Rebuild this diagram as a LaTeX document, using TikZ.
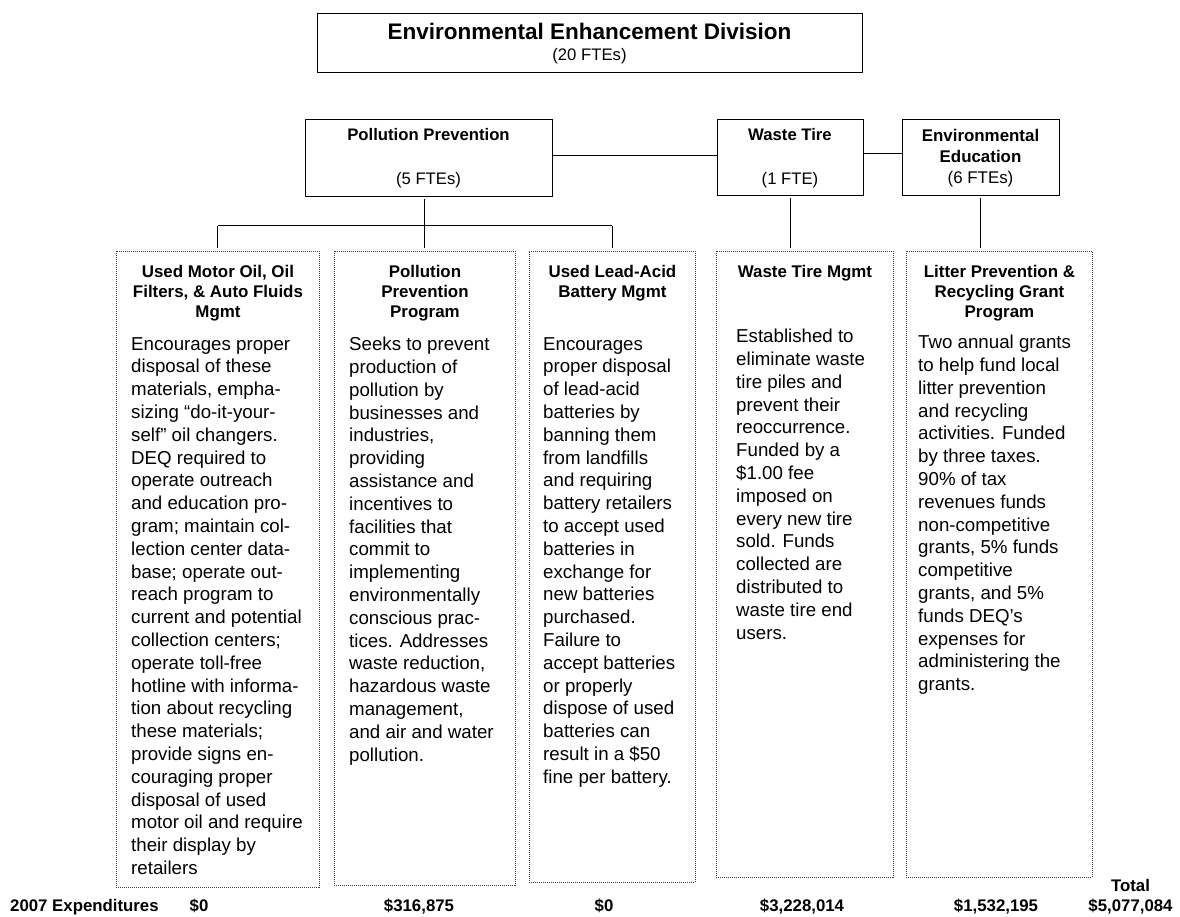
\documentclass[tikz,border=0pt]{standalone}
\usepackage{fontspec}
\setmainfont{Liberation Sans}
\usetikzlibrary{positioning}

\begin{document}
\begin{tikzpicture}[x=1pt,y=-1pt,
  unitbox/.style={draw,line width=1pt,inner sep=0pt,align=center,font=\fontsize{16.7}{20}\selectfont},
  progbox/.style={draw=black!75,dash pattern=on 1pt off 1pt,line width=0.9pt,inner sep=0pt,anchor=north west},
  head/.style={inner sep=0pt,align=center,font=\fontsize{16.9}{20}\selectfont\bfseries},
  body/.style={inner sep=0pt,align=left,anchor=north west,font=\fontsize{18.7}{22.8}\selectfont},
  cost/.style={inner sep=0pt,anchor=base,font=\fontsize{16.8}{20}\selectfont\bfseries},
  link/.style={line width=1pt}]
\useasboundingbox (0,0) rectangle (1180,917);

% division and its three sections
\node[unitbox,minimum width=545pt,minimum height=59pt,font=\fontsize{16.7}{21}\selectfont] (eed) at (589.5,43.5)
  {{\fontsize{22.5}{21}\selectfont\bfseries Environmental Enhancement Division}\\(20 FTEs)};
\node[unitbox,minimum width=247pt,minimum height=77pt] (pp) at (428.5,158.5) {\textbf{Pollution Prevention}\\[24pt](5 FTEs)};
\node[unitbox,minimum width=146pt,minimum height=76pt] (wt) at (790,158) {\textbf{Waste Tire}\\[24pt](1 FTE)};
\node[unitbox,minimum width=157pt,minimum height=76pt,font=\fontsize{16.9}{21}\selectfont] (ee) at (980.5,158)
  {\textbf{Environmental}\\\textbf{Education}\\(6 FTEs)};

% programs
\node[progbox,minimum width=203pt,minimum height=636pt] (b1) at (116,251) {};
\node[progbox,minimum width=181pt,minimum height=634pt] (b2) at (334,251) {};
\node[progbox,minimum width=166pt,minimum height=631pt] (b3) at (529,251) {};
\node[progbox,minimum width=177pt,minimum height=626pt] (b4) at (716,251) {};
\node[progbox,minimum width=186pt,minimum height=626pt] (b5) at (906,251) {};

\node[head,below=14.5pt of b1.north] (h1) {Used Motor Oil, Oil\\Filters, \& Auto Fluids\\Mgmt};
\node[head,below=14.5pt of b2.north] (h2) {Pollution\\Prevention\\Program};
\node[head,below=14.5pt of b3.north] (h3) {Used Lead-Acid\\Battery Mgmt};
\node[head,below=14.5pt of b4.north] (h4) {Waste Tire Mgmt};
\node[head,below=14.5pt of b5.north] (h5) {Litter Prevention \&\\Recycling Grant\\Program};

\node[body] (t1) at (131,337)
  {Encourages proper\\disposal of these\\materials, empha-\\sizing “do-it-your-\\self” oil changers.\\DEQ required to\\operate outreach\\and education pro-\\gram; maintain col-\\lection center data-\\base; operate out-\\reach program to\\current and potential\\collection centers;\\operate toll-free\\hotline with informa-\\tion about recycling\\these materials;\\provide signs en-\\couraging proper\\disposal of used\\motor oil and require\\their display by\\retailers};
\node[body] (t2) at (349,337)
  {Seeks to prevent\\production of\\pollution by\\businesses and\\industries,\\providing\\assistance and\\incentives to\\facilities that\\commit to\\implementing\\environmentally\\conscious prac-\\tices. Addresses\\waste reduction,\\hazardous waste\\management,\\and air and water\\pollution.};
\node[body] (t3) at (543,337)
  {Encourages\\proper disposal\\of lead-acid\\batteries by\\banning them\\from landfills\\and requiring\\battery retailers\\to accept used\\batteries in\\exchange for\\new batteries\\purchased.\\Failure to\\accept batteries\\or properly\\dispose of used\\batteries can\\result in a \$50\\fine per battery.};
\node[body] (t4) at (736,329)
  {Established to\\eliminate waste\\tire piles and\\prevent their\\reoccurrence.\\Funded by a\\\$1.00 fee\\imposed on\\every new tire\\sold. Funds\\collected are\\distributed to\\waste tire end\\users.};
\node[body] (t5) at (918,335)
  {Two annual grants\\to help fund local\\litter prevention\\and recycling\\activities. Funded\\by three taxes.\\90\% of tax\\revenues funds\\non-competitive\\grants, 5\% funds\\competitive\\grants, and 5\%\\funds DEQ’s\\expenses for\\administering the\\grants.};

% connectors
\coordinate (bus) at (0,226);
\draw[link] ([yshift=3pt]pp.east) -- ([yshift=3pt]pp.east -| wt.west);
\draw[link] ([yshift=4pt]wt.east) -- ([yshift=4pt]wt.east -| ee.west);
\draw[link,shorten <=2pt,shorten >=3pt] (b2.north |- pp.south) -- (b2.north);
\draw[link] (b1.north |- bus) -- (b3.north |- bus);
\draw[link,shorten >=3pt] (b1.north |- bus) -- (b1.north);
\draw[link,shorten >=3pt] (b3.north |- bus) -- (b3.north);
\draw[link,shorten <=2pt,shorten >=3pt] (wt.south) -- (wt.south |- b4.north);
\draw[link,shorten <=2pt,shorten >=3pt] (ee.south) -- (ee.south |- b5.north);

% expenditures
\node[cost,anchor=base west] (lbl) at (10,911) {2007 Expenditures};
\node[cost] (c1) at (199,911) {\$0};
\node[cost] (c2) at (419,911) {\$316,875};
\node[cost] (c3) at (604,911) {\$0};
\node[cost] (c4) at (802,911) {\$3,228,014};
\node[cost] (c5) at (996,911) {\$1,532,195};
\node[cost] (c6) at (1130.5,911) {\$5,077,084};
\node[cost,above=6pt of c6] (tot) {Total};
\end{tikzpicture}
\end{document}
